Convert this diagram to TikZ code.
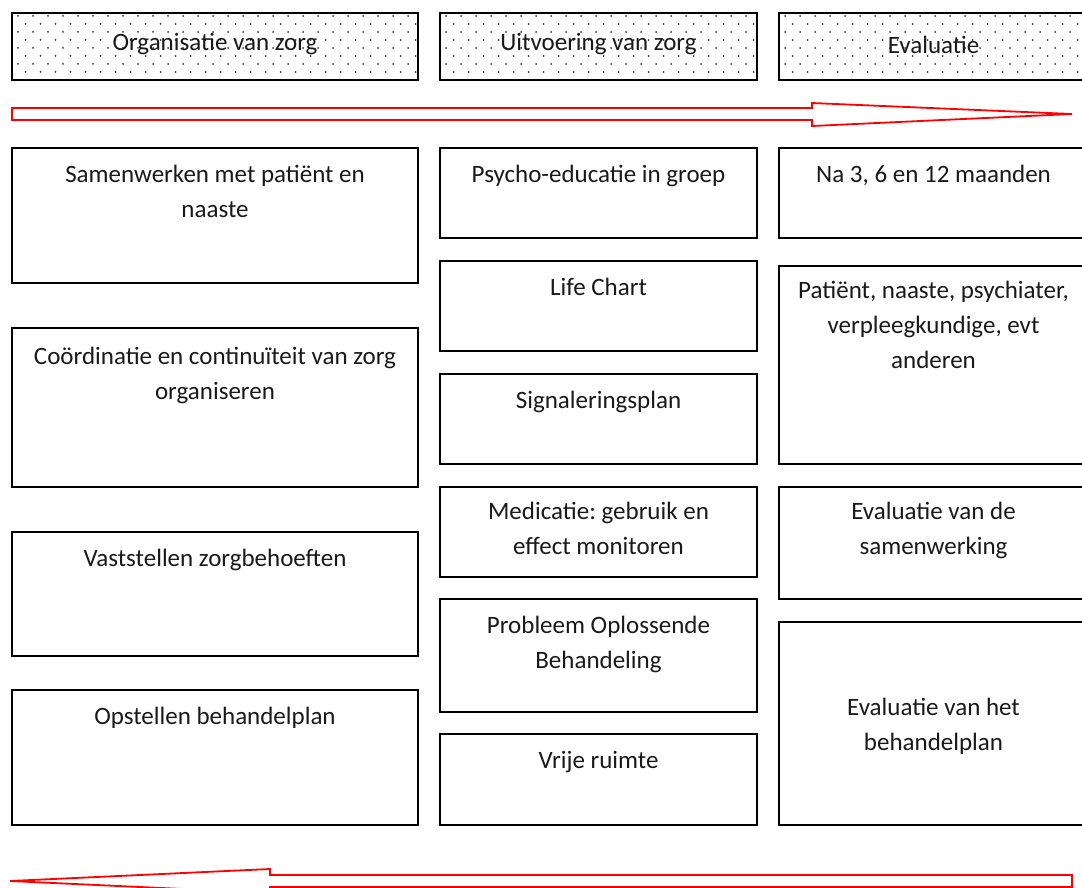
\documentclass[tikz,border=0pt]{standalone}
\usepackage{fontspec}
\setmainfont{Carlito}
\usetikzlibrary{fit}
\frenchspacing
\begin{document}
\begin{tikzpicture}[x=0.5pt,y=-0.5pt,
  box/.style={draw=black,line width=1pt,inner sep=0pt,rectangle},
  txt/.style={font=\fontsize{12.5}{17.5}\selectfont,align=center,inner sep=0pt,text=black!90},
  flow/.style={draw=red,line width=0.9pt,line join=miter}]
\useasboundingbox (0,0) rectangle (1082,888);
\clip (0,0) rectangle (1082,888);
% dotted fill of header boxes
\foreach \xa/\xb in {12/418,440/757,779/1090}{
  \begin{scope}
    \clip (\xa,13) rectangle (\xb,80);
    \foreach \r in {0,...,8}{
      \pgfmathsetmacro\yy{16+8*\r}
      \pgfmathsetmacro\off{mod(\r,2)*7.5}
      \foreach \c in {0,...,28}{
        \fill[black!80] (\xa+6+\off+15*\c,\yy) circle (0.5pt);
      }
    }
  \end{scope}
}
% header boxes
\node[box,fit={(12,13) (418,80)}] (h1) {};
\node[box,fit={(440,13) (757,80)}] (h2) {};
\node[box,fit={(779,13) (1088,80)}] (h3) {};
\node[txt] (h1t) at ([yshift=1pt]h1.center) {Organisatie van zorg};
\node[txt] (h2t) at ([yshift=1pt]h2.center) {Uitvoering van zorg};
\node[txt] (h3t) at ([yshift=1pt]h3.center) {Evaluatie};
% arrows
\draw[flow] (12,108) -- (812,108) -- (812,103) -- (1072,114) -- (812,126) -- (812,120) -- (12,120) -- cycle;
\draw[flow] (1072,875) -- (270,875) -- (270,869) -- (10,881) -- (270,893) -- (270,887) -- (1072,887) -- cycle;
% left column
\node[box,fit={(12,148) (418,283)}] (l1) {};
\node[box,fit={(12,328) (418,487)}] (l2) {};
\node[box,fit={(12,532) (418,656)}] (l3) {};
\node[box,fit={(12,690) (418,825)}] (l4) {};
% middle column
\node[box,fit={(440,148) (757,238)}] (m1) {};
\node[box,fit={(440,261) (757,351)}] (m2) {};
\node[box,fit={(440,374) (757,464)}] (m3) {};
\node[box,fit={(440,487) (757,577)}] (m4) {};
\node[box,fit={(440,599) (757,712)}] (m5) {};
\node[box,fit={(440,734) (757,825)}] (m6) {};
% right column
\node[box,fit={(779,148) (1088,238)}] (r1) {};
\node[box,fit={(779,266) (1088,464)}] (r2) {};
\node[box,fit={(779,487) (1088,599)}] (r3) {};
\node[box,fit={(779,622) (1088,825)}] (r4) {};
% texts
\node[txt,anchor=north] (l1t) at ([yshift=-5.25pt]l1.north) {\strut Samenwerken met patiënt en\\naaste};
\node[txt,anchor=north] (l2t) at ([yshift=-6.5pt]l2.north) {\strut Coördinatie en continuïteit van zorg\\organiseren};
\node[txt,anchor=north] (l3t) at ([yshift=-5.25pt]l3.north) {\strut Vaststellen zorgbehoeften};
\node[txt,anchor=north] (l4t) at ([yshift=-5.25pt]l4.north) {\strut Opstellen behandelplan};
\node[txt,anchor=north] (m1t) at ([yshift=-5.25pt]m1.north) {\strut Psycho-educatie in groep};
\node[txt,anchor=north] (m2t) at ([yshift=-5.25pt]m2.north) {\strut Life Chart};
\node[txt,anchor=north] (m3t) at ([yshift=-5.25pt]m3.north) {\strut Signaleringsplan};
\node[txt,anchor=north] (m4t) at ([yshift=-4.5pt]m4.north) {\strut Medicatie: gebruik en\\effect monitoren};
\node[txt,anchor=north] (m5t) at ([yshift=-5.25pt]m5.north) {\strut Probleem Oplossende\\Behandeling};
\node[txt,anchor=north] (m6t) at ([yshift=-5.25pt]m6.north) {\strut Vrije ruimte};
\node[txt,anchor=north] (r1t) at ([yshift=-5.25pt]r1.north) {\strut Na 3, 6 en 12 maanden};
\node[txt,anchor=north] (r2t) at ([yshift=-4.5pt]r2.north) {\strut Patiënt, naaste, psychiater,\\verpleegkundige, evt\\anderen};
\node[txt,anchor=north] (r3t) at ([yshift=-4.5pt]r3.north) {\strut Evaluatie van de\\samenwerking};
\node[txt] (r4t) at ([yshift=-1.25pt]r4.center) {Evaluatie van het\\behandelplan};
\end{tikzpicture}
\end{document}
